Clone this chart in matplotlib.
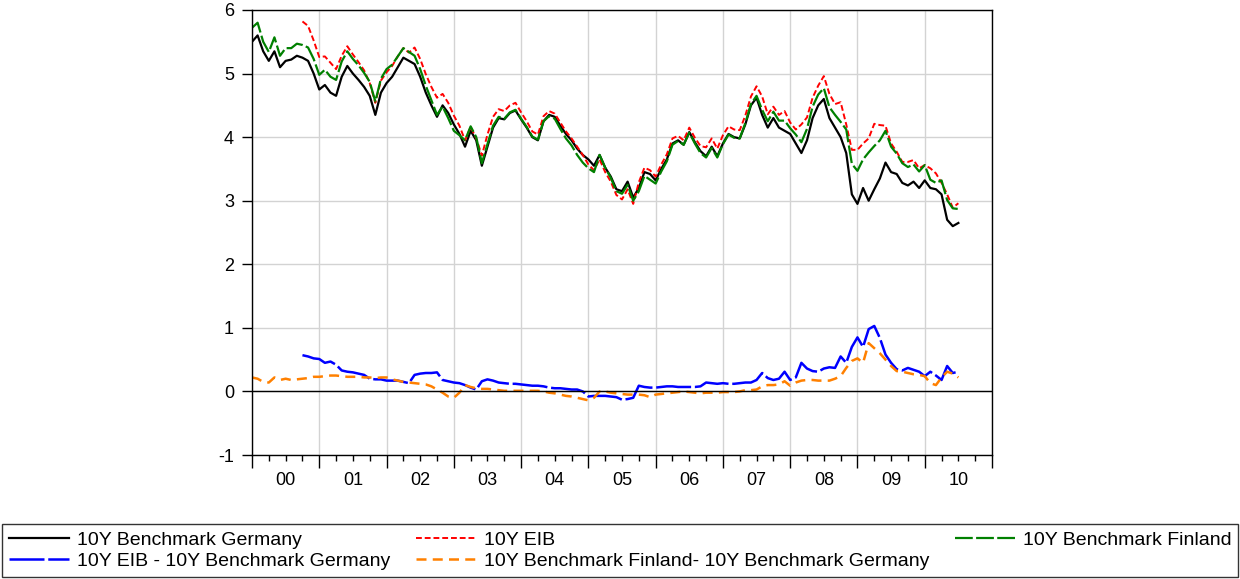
import numpy as np
import pandas as pd
import matplotlib
matplotlib.use("Agg")
import matplotlib.pyplot as plt
from matplotlib.ticker import FixedLocator, FuncFormatter

plt.rcParams['font.family'] = ['Liberation Sans', 'DejaVu Sans']
plt.rcParams['axes.unicode_minus'] = False

# monthly readings, Jan 2000 - Jul 2010 (percent)
germany = [
    5.50, 5.60, 5.35, 5.20, 5.35, 5.10, 5.20, 5.22, 5.28, 5.25, 5.20, 5.00,  # 2000
    4.75, 4.82, 4.70, 4.65, 4.95, 5.12, 5.00, 4.90, 4.79, 4.65, 4.35, 4.70,  # 2001
    4.85, 4.95, 5.10, 5.25, 5.20, 5.15, 4.95, 4.70, 4.50, 4.32, 4.50, 4.38,  # 2002
    4.20, 4.05, 3.85, 4.10, 3.95, 3.55, 3.85, 4.15, 4.30, 4.28, 4.38, 4.42,  # 2003
    4.28, 4.15, 4.00, 3.95, 4.25, 4.35, 4.32, 4.18, 4.05, 3.95, 3.82, 3.72,  # 2004
    3.65, 3.55, 3.72, 3.52, 3.38, 3.18, 3.15, 3.30, 3.05, 3.20, 3.45, 3.42,  # 2005
    3.32, 3.50, 3.65, 3.90, 3.95, 3.88, 4.08, 3.92, 3.78, 3.70, 3.85, 3.70,  # 2006
    3.90, 4.05, 4.00, 3.98, 4.20, 4.50, 4.62, 4.35, 4.15, 4.30, 4.15, 4.10,  # 2007
    4.05, 3.90, 3.75, 3.95, 4.30, 4.50, 4.60, 4.30, 4.15, 4.00, 3.75, 3.10,  # 2008
    2.95, 3.20, 3.00, 3.18, 3.35, 3.60, 3.45, 3.42, 3.28, 3.24, 3.30, 3.20,  # 2009
    3.32, 3.20, 3.18, 3.10, 2.70, 2.60, 2.65]                                # 2010

# 10Y EIB - 10Y Germany (EIB series starts Oct 2000)
eib_spread = [np.nan] * 9 + [
    0.57, 0.55, 0.52,
    0.51, 0.45, 0.47, 0.42, 0.33, 0.31, 0.30, 0.28, 0.26, 0.20, 0.19, 0.19,
    0.17, 0.17, 0.17, 0.15, 0.13, 0.26, 0.28, 0.29, 0.29, 0.30, 0.18, 0.16,
    0.14, 0.13, 0.10, 0.06, 0.03, 0.16, 0.19, 0.17, 0.14, 0.13, 0.12, 0.12,
    0.11, 0.10, 0.09, 0.09, 0.08, 0.06, 0.05, 0.05, 0.04, 0.03, 0.03, 0.00,
    -0.08, -0.07, -0.07, -0.07, -0.08, -0.09, -0.13, -0.12, -0.10, 0.09, 0.07, 0.06,
    0.06, 0.07, 0.08, 0.08, 0.07, 0.07, 0.07, 0.07, 0.08, 0.14, 0.13, 0.12,
    0.13, 0.12, 0.12, 0.13, 0.14, 0.14, 0.18, 0.29, 0.21, 0.18, 0.20, 0.31,
    0.18, 0.22, 0.45, 0.36, 0.32, 0.31, 0.36, 0.38, 0.37, 0.55, 0.45, 0.70,
    0.85, 0.70, 0.98, 1.03, 0.84, 0.58, 0.45, 0.35, 0.33, 0.37, 0.34, 0.31,
    0.24, 0.31, 0.25, 0.18, 0.40, 0.29, 0.31]

# 10Y Finland - 10Y Germany
fin_spread = [
    0.22, 0.20, 0.15, 0.14, 0.22, 0.18, 0.20, 0.18, 0.19, 0.20, 0.21, 0.23,
    0.23, 0.24, 0.25, 0.25, 0.24, 0.23, 0.23, 0.23, 0.22, 0.22, 0.21, 0.22,
    0.22, 0.19, 0.17, 0.15, 0.14, 0.13, 0.12, 0.11, 0.08, 0.03, -0.02, -0.08,
    -0.10, -0.02, 0.10, 0.07, 0.05, 0.04, 0.04, 0.03, 0.02, 0.01, 0.01, 0.01,
    0.01, 0.01, 0.01, 0.01, 0.00, -0.02, -0.03, -0.05, -0.07, -0.08, -0.10, -0.12,
    -0.14, -0.10, 0.00, 0.00, -0.02, -0.03, -0.04, -0.05, -0.05, -0.05, -0.06, -0.09,
    -0.05, -0.04, -0.03, -0.02, -0.01, 0.00, -0.01, -0.02, -0.03, -0.02, -0.02, -0.02,
    -0.01, -0.01, -0.01, 0.00, 0.02, 0.02, 0.03, 0.08, 0.10, 0.10, 0.11, 0.16,
    0.09, 0.14, 0.17, 0.18, 0.18, 0.17, 0.17, 0.17, 0.20, 0.24, 0.37, 0.48,
    0.52, 0.45, 0.76, 0.68, 0.60, 0.50, 0.40, 0.32, 0.31, 0.29, 0.27, 0.26,
    0.24, 0.13, 0.10, 0.22, 0.31, 0.28, 0.22]

year_labels = ["00", "01", "02", "03", "04", "05", "06", "07", "08", "09", "10"]

dates = pd.date_range("2000-01-01", periods=len(germany), freq="MS")
t = dates.year + (dates.month - 1) / 12.0

germany = np.array(germany)
eib_spread = np.array(eib_spread)
fin_spread = np.array(fin_spread)
eib = germany + eib_spread
finland = germany + fin_spread

fig = plt.figure(figsize=(12.4, 5.79), dpi=100)
ax = fig.add_axes([252 / 1240, 1 - 455 / 579, 740 / 1240, 445 / 579])

l1, = ax.plot(t, germany, color="black", lw=1.6, label="10Y Benchmark Germany")
l2, = ax.plot(t, eib, color="#ff0000", lw=1.4, dashes=(3, 1.5), label="10Y EIB")
l3, = ax.plot(t, finland, color="#008000", lw=1.6, dashes=(8, 1.5), label="10Y Benchmark Finland")
l4, = ax.plot(t, eib_spread, color="#0000ff", lw=1.8, dashes=(14, 1.5), label="10Y EIB - 10Y Benchmark Germany")
l5, = ax.plot(t, fin_spread, color="#ff8000", lw=1.8, dashes=(4, 2.5),
              label="10Y Benchmark Finland- 10Y Benchmark Germany")
ax.axhline(0, color="black", lw=1)

ax.set_xlim(2000, 2011)
ax.set_ylim(-1, 6)
ax.set_yticks(range(-1, 7))
ax.xaxis.set_major_locator(FixedLocator(range(2000, 2012)))
ax.xaxis.set_major_formatter(FuncFormatter(lambda v, p: ""))
quarters = [y + q / 4 for y in range(2000, 2011) for q in (1, 2, 3)]
ax.xaxis.set_minor_locator(FixedLocator(quarters))
ax.xaxis.set_minor_formatter(FuncFormatter(
    lambda v, p: year_labels[int(v) - 2000] if abs(v % 1 - 0.5) < 1e-6 else ""))
ax.tick_params(axis="x", which="major", length=9, width=1, direction="out")
ax.tick_params(axis="x", which="minor", length=4, width=1, direction="out", labelsize=13, pad=8)
ax.tick_params(axis="y", length=7, width=1, labelsize=13, pad=6)
ax.grid(which="major", color="#d3d3d3", lw=1)
ax.set_axisbelow(True)
for s in ax.spines.values():
    s.set_color("black")
    s.set_linewidth(1)

handles = [l1, l4, l2, l5, l3]
leg = fig.legend(handles, [h.get_label() for h in handles],
                 loc="lower left", bbox_to_anchor=(2 / 1240, 2 / 579, 1236 / 1240, 0.1),
                 mode="expand", ncol=3, fontsize=14, frameon=True, fancybox=False,
                 edgecolor="black", handlelength=3.1, handletextpad=0.4,
                 labelspacing=0.2, borderaxespad=0, borderpad=0.35)
leg.get_frame().set_linewidth(1)

fig.savefig("out.png", dpi=100)
